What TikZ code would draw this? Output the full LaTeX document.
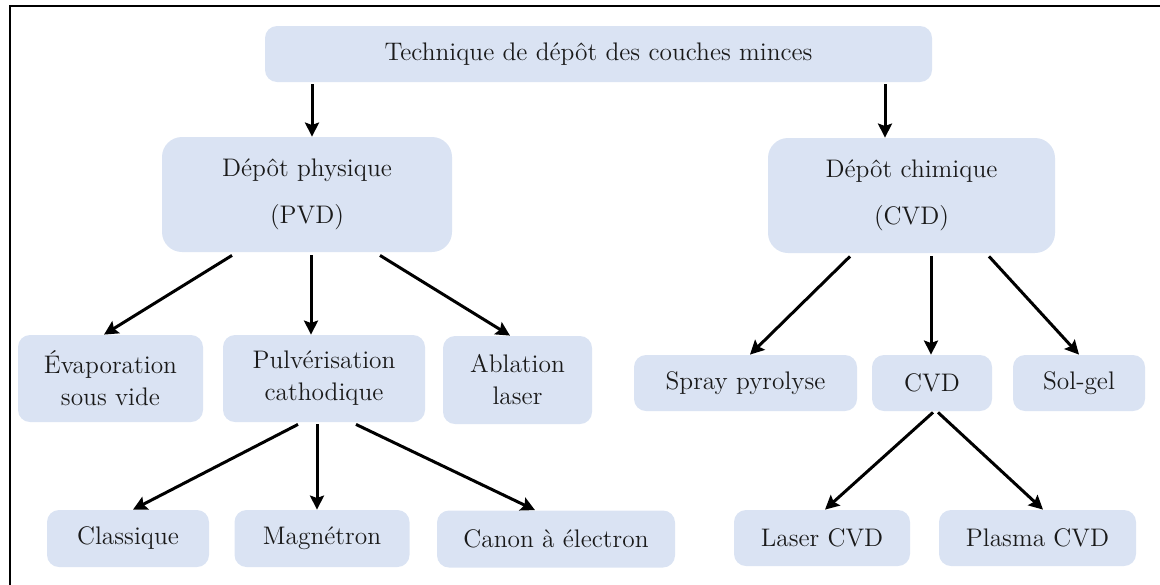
\documentclass[tikz,border=0pt]{standalone}
\usepackage{fontspec}
\usetikzlibrary{arrows.meta}
\definecolor{boxfill}{HTML}{DAE3F3}
\definecolor{txt}{HTML}{1A1A1A}
\tikzset{
  x=0.5pt, y=-0.5pt,
  box/.style={fill=boxfill, draw=none, rounded corners=6pt, inner sep=0pt, align=center,
    text=txt, font=\rmfamily\fontsize{12.7}{16}\selectfont},
  bigbox/.style={box, rounded corners=10pt},
  arr/.style={line width=1.5pt, -{Stealth[length=7pt,width=7pt,inset=1.2pt]}},
}
\begin{document}
\begin{tikzpicture}
\useasboundingbox (0,0) rectangle (1160,584);
\draw[line width=1.3pt] (10,590) -- (10,6) -- (1165,6);

\node[box, minimum width=333.5pt, minimum height=28pt] (top) at (598.5,54) {Technique de dépôt des couches minces};
\node[bigbox, minimum width=145pt, minimum height=57.5pt] (phys) at (307,194.5) {Dépôt physique\\[7.5pt](PVD)};
\node[bigbox, minimum width=143.5pt, minimum height=57.5pt] (chim) at (911.5,195.5) {Dépôt chimique\\[7.5pt](CVD)};

\node[box, minimum width=92.5pt, minimum height=43.5pt] (evap) at (110.5,378.5) {Évaporation\\sous vide};
\node[box, minimum width=101pt, minimum height=43.5pt] (pulv) at (324,378.5) {Pulvérisation\\cathodique};
\node[box, minimum width=74.5pt, minimum height=44pt] (abl) at (517.5,380) {Ablation\\laser};

\node[box, minimum width=111.5pt, minimum height=28pt] (spray) at (745.5,383) {Spray pyrolyse};
\node[box, minimum width=60pt, minimum height=28pt] (cvd) at (932,383) {CVD};
\node[box, minimum width=66pt, minimum height=28pt] (sol) at (1079,383) {Sol-gel};

\node[box, minimum width=81pt, minimum height=28.5pt] (clas) at (128,538.5) {Classique};
\node[box, minimum width=87.5pt, minimum height=28.5pt] (mag) at (322,538.5) {Magnétron};
\node[box, minimum width=119pt, minimum height=28.5pt] (canon) at (556,539) {Canon à électron};

\node[box, minimum width=88pt, minimum height=28pt] (laser) at (822,538) {Laser CVD};
\node[box, minimum width=98.5pt, minimum height=28pt] (plasma) at (1037.5,538) {Plasma CVD};

\draw[arr] ([shift={(-286.5,2)}]top.south) -- ([shift={(5,0)}]phys.north);
\draw[arr] ([shift={(286.5,2)}]top.south) -- ([shift={(-26.5,0)}]chim.north);

\draw[arr] ([shift={(-75,3)}]phys.south) -- ([shift={(-6.5,0)}]evap.north);
\draw[arr] ([shift={(4,3)}]phys.south) -- ([shift={(-13,0)}]pulv.north);
\draw[arr] ([shift={(73,3)}]phys.south) -- ([shift={(-7.5,0)}]abl.north);

\draw[arr] ([shift={(-61.5,3)}]chim.south) -- ([shift={(4.5,0)}]spray.north);
\draw[arr] ([shift={(19.5,3)}]chim.south) -- ([shift={(-1,0)}]cvd.north);
\draw[arr] ([shift={(77.5,3)}]chim.south) -- (sol.north);

\draw[arr] ([shift={(-26,2)}]pulv.south) -- ([shift={(5,0)}]clas.north);
\draw[arr] ([shift={(-7,2)}]pulv.south) -- ([shift={(-5,0)}]mag.north);
\draw[arr] ([shift={(32,2)}]pulv.south) -- ([shift={(-21,0)}]canon.north);

\draw[arr] ([shift={(1,1)}]cvd.south) -- ([shift={(3,0)}]laser.north);
\draw[arr] ([shift={(6,1)}]cvd.south) -- ([shift={(5.5,0)}]plasma.north);
\end{tikzpicture}
\end{document}
